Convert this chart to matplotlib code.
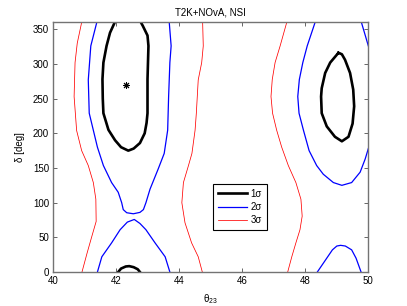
import matplotlib
matplotlib.use("Agg")
import matplotlib.pyplot as plt
import numpy as np

plt.rcParams['font.family'] = ['Liberation Sans', 'DejaVu Sans']
plt.rcParams['mathtext.fontset'] = 'custom'
plt.rcParams['mathtext.rm'] = 'Liberation Sans'
plt.rcParams['mathtext.it'] = 'Liberation Sans:italic'

# contour paths: (theta23 [deg], delta [deg])
# 1 sigma
s1_left_th = [41.95, 41.80, 41.69, 41.59, 41.56, 41.57, 41.59, 41.75, 41.96, 42.15, 42.38, 42.55, 42.75, 42.90, 42.96, 42.99, 42.99, 43.02, 42.99, 42.84, 42.78]
s1_left_d = [360, 345, 326, 302, 278, 250, 229, 205, 190, 180, 175, 178, 186, 200, 215, 229, 278, 326, 341, 355, 360]
s1_bot_th = [42.06, 42.15, 42.30, 42.41, 42.55, 42.68, 42.75]
s1_bot_d = [0, 5, 8, 8.5, 7, 4, 0]
s1_right_th = [49.05, 48.79, 48.63, 48.52, 48.50, 48.52, 48.68, 48.94, 49.16, 49.37, 49.50, 49.55, 49.52, 49.42, 49.26, 49.16, 49.05]
s1_right_d = [316, 302, 287, 265, 253, 229, 210, 195, 188.5, 195, 214, 239, 263, 287, 306, 314, 316]

# 2 sigma
s2_left_th = [41.38, 41.19, 41.11, 41.14, 41.40, 41.59, 41.85, 42.06, 42.17, 42.22, 42.33, 42.54, 42.75, 42.86, 42.94, 43.07, 43.33, 43.52, 43.63, 43.66, 43.70, 43.74, 43.68]
s2_left_d = [360, 326, 277, 229, 180, 153.5, 129, 115, 100, 90, 85.5, 84, 86, 90, 100, 119.5, 148.7, 171, 204.5, 253, 302, 326, 360]
s2_bot_th = [41.40, 41.54, 41.85, 42.12, 42.35, 42.57, 42.75, 42.94, 43.23, 43.55, 43.70]
s2_bot_d = [0, 22, 42, 61, 72, 75.8, 70, 61, 42, 22, 0]
s2_right_th = [48.31, 48.06, 47.92, 47.81, 47.76, 47.80, 47.94, 48.12, 48.36, 48.57, 48.89, 49.16, 49.47, 49.74, 49.90, 50.0]
s2_right_d = [360, 326, 302, 277.6, 253, 229, 204.5, 175, 153.5, 141, 129, 125, 129, 144, 163, 178]
s2_corner_th = [49.78, 49.91, 50.0]
s2_corner_d = [360, 340, 326]
s2_br_th = [48.38, 48.68, 48.86, 49.0, 49.12, 49.27, 49.47, 49.61, 49.77]
s2_br_d = [0, 20, 32, 37.5, 38.5, 37.5, 32, 20, 0]

# 3 sigma
s3_a_th = [40.90, 40.76, 40.69, 40.66, 40.74, 40.90, 41.11, 41.27, 41.35, 41.36, 41.22, 41.07, 40.91]
s3_a_d = [360, 330, 302, 253, 204, 175, 153.5, 129, 105, 73, 51, 27, 0]
s3_b_th = [44.74, 44.76, 44.71, 44.60, 44.57, 44.54, 44.50, 44.40, 44.29, 44.13, 44.08, 44.18, 44.39, 44.60, 44.73]
s3_b_d = [360, 326, 302, 277, 253, 229, 204.5, 171, 153.5, 129, 100, 71, 42, 22, 0]
s3_c_th = [47.41, 47.20, 47.04, 46.95, 46.91, 46.96, 47.09, 47.25, 47.46, 47.70, 47.86, 47.90, 47.83, 47.70, 47.57, 47.44]
s3_c_d = [360, 326, 302, 277.6, 253, 229, 204.5, 180, 153.5, 129, 105, 80.6, 61, 42, 22, 0]

best_fit = (42.3, 270)

fig = plt.figure(figsize=(4.07, 3.06), dpi=100)
ax = fig.add_axes([0.131, 0.111, 0.774, 0.816])

lw1, lw2, lw3 = 1.9, 0.9, 0.55
ax.plot(s1_left_th, s1_left_d, color='k', lw=lw1, label='1σ')
ax.plot(s1_bot_th, s1_bot_d, color='k', lw=lw1)
ax.plot(s1_right_th, s1_right_d, color='k', lw=lw1)

ax.plot(s2_left_th, s2_left_d, color='b', lw=lw2, label='2σ')
for th, d in [(s2_bot_th, s2_bot_d), (s2_right_th, s2_right_d),
              (s2_corner_th, s2_corner_d), (s2_br_th, s2_br_d)]:
    ax.plot(th, d, color='b', lw=lw2)

ax.plot(s3_a_th, s3_a_d, color='r', lw=lw3, label='3σ')
ax.plot(s3_b_th, s3_b_d, color='r', lw=lw3)
ax.plot(s3_c_th, s3_c_d, color='r', lw=lw3)

ax.plot([best_fit[0]], [best_fit[1]], marker=(8, 2, 0), color='k', ms=5, mew=0.7)

ax.set_xlim(40, 50)
ax.set_ylim(0, 360)
ax.set_xticks([40, 42, 44, 46, 48, 50])
ax.set_yticks([0, 50, 100, 150, 200, 250, 300, 350])
ax.tick_params(direction='in', top=True, right=True, length=3, width=0.6,
               labelsize=7, color='0.3', pad=3)
for sp in ax.spines.values():
    sp.set_color('0.45')
    sp.set_linewidth(1.0)

ax.set_title('T2K+NOvA, NSI', fontsize=7, pad=5)
ax.set_xlabel('θ$_{\\mathregular{23}}$', fontsize=7, labelpad=4)
ax.set_ylabel('δ [deg]', fontsize=7, labelpad=6)

leg = ax.legend(loc='lower left', bbox_to_anchor=(0.508, 0.167), fontsize=7,
                handlelength=3.0, fancybox=False, framealpha=1,
                edgecolor='k', borderpad=0.5, labelspacing=0.35,
                handletextpad=0.3, borderaxespad=0)
leg.get_frame().set_linewidth(0.8)

fig.savefig('out.png', dpi=100)
